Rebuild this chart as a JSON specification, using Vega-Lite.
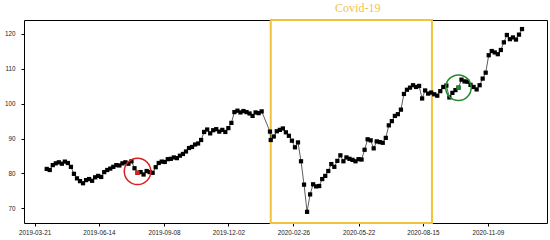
{
  "$schema": "https://vega.github.io/schema/vega-lite/v6.json",
  "width": 523,
  "height": 203,
  "autosize": {"type": "none"},
  "padding": {"left": 24, "top": 20, "right": 3, "bottom": 17},
  "background": "white",
  "config": {
    "view": {"stroke": "#000", "strokeWidth": 1},
    "axis": {"grid": false, "domain": false, "labelFont": "Liberation Sans", "labelFontSize": 6.3, "labelColor": "#222", "tickColor": "#000", "tickSize": 3, "title": null}
  },
  "datasets": {
    "series": [
      {"date": "2019-04-06", "value": 81.3}, {"date": "2019-04-10", "value": 81.0}, {"date": "2019-04-14", "value": 82.4}, {"date": "2019-04-18", "value": 82.9},
      {"date": "2019-04-22", "value": 83.2}, {"date": "2019-04-26", "value": 82.8}, {"date": "2019-04-30", "value": 83.4}, {"date": "2019-05-04", "value": 83.0},
      {"date": "2019-05-08", "value": 81.9}, {"date": "2019-05-12", "value": 79.9}, {"date": "2019-05-16", "value": 78.6}, {"date": "2019-05-20", "value": 77.8},
      {"date": "2019-05-24", "value": 77.2}, {"date": "2019-05-28", "value": 78.1}, {"date": "2019-06-01", "value": 78.4}, {"date": "2019-06-05", "value": 77.9},
      {"date": "2019-06-09", "value": 78.9}, {"date": "2019-06-13", "value": 79.3}, {"date": "2019-06-17", "value": 79.0}, {"date": "2019-06-21", "value": 80.4},
      {"date": "2019-06-25", "value": 81.0}, {"date": "2019-06-29", "value": 81.4}, {"date": "2019-07-03", "value": 81.9}, {"date": "2019-07-07", "value": 82.4},
      {"date": "2019-07-11", "value": 82.3}, {"date": "2019-07-15", "value": 82.9}, {"date": "2019-07-19", "value": 83.2}, {"date": "2019-07-23", "value": 82.8},
      {"date": "2019-07-27", "value": 83.5}, {"date": "2019-07-31", "value": 81.5}, {"date": "2019-08-04", "value": 80.2}, {"date": "2019-08-08", "value": 80.4},
      {"date": "2019-08-12", "value": 79.7}, {"date": "2019-08-16", "value": 80.7}, {"date": "2019-08-20", "value": 80.4}, {"date": "2019-08-24", "value": 80.2},
      {"date": "2019-08-28", "value": 81.8}, {"date": "2019-09-01", "value": 83.0}, {"date": "2019-09-05", "value": 83.4}, {"date": "2019-09-09", "value": 83.3},
      {"date": "2019-09-13", "value": 84.1}, {"date": "2019-09-17", "value": 84.2}, {"date": "2019-09-21", "value": 84.6}, {"date": "2019-09-25", "value": 84.4},
      {"date": "2019-09-29", "value": 85.1}, {"date": "2019-10-03", "value": 85.6}, {"date": "2019-10-07", "value": 86.3}, {"date": "2019-10-11", "value": 87.3},
      {"date": "2019-10-15", "value": 87.6}, {"date": "2019-10-19", "value": 88.3}, {"date": "2019-10-23", "value": 88.6}, {"date": "2019-10-27", "value": 89.6},
      {"date": "2019-10-31", "value": 91.9}, {"date": "2019-11-04", "value": 92.6}, {"date": "2019-11-08", "value": 91.5}, {"date": "2019-11-12", "value": 92.4},
      {"date": "2019-11-16", "value": 92.7}, {"date": "2019-11-20", "value": 92.0}, {"date": "2019-11-24", "value": 92.5}, {"date": "2019-11-28", "value": 91.9},
      {"date": "2019-12-02", "value": 93.0}, {"date": "2019-12-06", "value": 94.5}, {"date": "2019-12-10", "value": 97.6}, {"date": "2019-12-14", "value": 98.0},
      {"date": "2019-12-18", "value": 97.5}, {"date": "2019-12-22", "value": 97.9}, {"date": "2019-12-26", "value": 97.6}, {"date": "2019-12-30", "value": 97.2},
      {"date": "2020-01-03", "value": 96.5}, {"date": "2020-01-07", "value": 97.5}, {"date": "2020-01-11", "value": 97.3}, {"date": "2020-01-15", "value": 97.8},
      {"date": "2020-01-26", "value": 92.0}, {"date": "2020-01-27", "value": 89.6}, {"date": "2020-01-31", "value": 90.6}, {"date": "2020-02-04", "value": 92.1},
      {"date": "2020-02-08", "value": 92.5}, {"date": "2020-02-12", "value": 92.9}, {"date": "2020-02-16", "value": 91.8}, {"date": "2020-02-20", "value": 90.8},
      {"date": "2020-02-24", "value": 89.4}, {"date": "2020-02-28", "value": 87.5}, {"date": "2020-03-03", "value": 88.9}, {"date": "2020-03-07", "value": 83.5},
      {"date": "2020-03-11", "value": 76.8}, {"date": "2020-03-15", "value": 69.0}, {"date": "2020-03-19", "value": 74.0}, {"date": "2020-03-23", "value": 76.9},
      {"date": "2020-03-27", "value": 76.3}, {"date": "2020-03-31", "value": 76.4}, {"date": "2020-04-04", "value": 78.4}, {"date": "2020-04-08", "value": 79.3},
      {"date": "2020-04-12", "value": 80.7}, {"date": "2020-04-16", "value": 82.7}, {"date": "2020-04-20", "value": 81.9}, {"date": "2020-04-24", "value": 83.6},
      {"date": "2020-04-28", "value": 85.2}, {"date": "2020-05-02", "value": 83.5}, {"date": "2020-05-06", "value": 84.6}, {"date": "2020-05-10", "value": 84.2},
      {"date": "2020-05-14", "value": 83.9}, {"date": "2020-05-18", "value": 83.5}, {"date": "2020-05-22", "value": 84.1}, {"date": "2020-05-26", "value": 84.0},
      {"date": "2020-05-30", "value": 86.8}, {"date": "2020-06-03", "value": 89.8}, {"date": "2020-06-07", "value": 89.5}, {"date": "2020-06-11", "value": 87.2},
      {"date": "2020-06-15", "value": 89.2}, {"date": "2020-06-19", "value": 89.0}, {"date": "2020-06-23", "value": 88.8}, {"date": "2020-06-27", "value": 90.2},
      {"date": "2020-07-01", "value": 93.8}, {"date": "2020-07-05", "value": 95.0}, {"date": "2020-07-09", "value": 96.5}, {"date": "2020-07-13", "value": 97.0},
      {"date": "2020-07-17", "value": 98.3}, {"date": "2020-07-21", "value": 102.8}, {"date": "2020-07-25", "value": 104.0}, {"date": "2020-07-29", "value": 104.6},
      {"date": "2020-08-02", "value": 105.3}, {"date": "2020-08-06", "value": 104.8}, {"date": "2020-08-10", "value": 105.1}, {"date": "2020-08-14", "value": 101.5},
      {"date": "2020-08-18", "value": 103.8}, {"date": "2020-08-22", "value": 102.9}, {"date": "2020-08-26", "value": 103.2}, {"date": "2020-08-30", "value": 102.7},
      {"date": "2020-09-03", "value": 102.3}, {"date": "2020-09-07", "value": 103.6}, {"date": "2020-09-11", "value": 104.8}, {"date": "2020-09-15", "value": 105.2},
      {"date": "2020-09-19", "value": 101.8}, {"date": "2020-09-23", "value": 103.1}, {"date": "2020-09-27", "value": 103.9}, {"date": "2020-10-01", "value": 104.6},
      {"date": "2020-10-05", "value": 106.9}, {"date": "2020-10-09", "value": 106.4}, {"date": "2020-10-13", "value": 106.3}, {"date": "2020-10-17", "value": 105.4},
      {"date": "2020-10-21", "value": 104.8}, {"date": "2020-10-25", "value": 104.1}, {"date": "2020-10-29", "value": 105.3}, {"date": "2020-11-02", "value": 107.2},
      {"date": "2020-11-06", "value": 108.9}, {"date": "2020-11-10", "value": 113.9}, {"date": "2020-11-14", "value": 115.1}, {"date": "2020-11-18", "value": 114.7},
      {"date": "2020-11-22", "value": 114.2}, {"date": "2020-11-26", "value": 115.4}, {"date": "2020-11-30", "value": 117.6}, {"date": "2020-12-04", "value": 119.7},
      {"date": "2020-12-08", "value": 118.5}, {"date": "2020-12-12", "value": 119.0}, {"date": "2020-12-16", "value": 118.4}, {"date": "2020-12-20", "value": 119.8},
      {"date": "2020-12-24", "value": 121.4}
    ]
  },
  "encoding": {
    "x": {
      "field": "date", "type": "temporal",
      "scale": {"type": "utc", "domain": [{"year": 2019, "month": 3, "date": 7, "utc": true}, {"year": 2021, "month": 1, "date": 26, "utc": true}], "nice": false},
      "axis": {
        "format": "%Y-%m-%d", "labelPadding": 3,
        "values": [
          {"year": 2019, "month": 3, "date": 21, "utc": true},
          {"year": 2019, "month": 6, "date": 14, "utc": true},
          {"year": 2019, "month": 9, "date": 8, "utc": true},
          {"year": 2019, "month": 12, "date": 2, "utc": true},
          {"year": 2020, "month": 2, "date": 26, "utc": true},
          {"year": 2020, "month": 5, "date": 22, "utc": true},
          {"year": 2020, "month": 8, "date": 15, "utc": true},
          {"year": 2020, "month": 11, "date": 9, "utc": true}
        ]
      }
    },
    "y": {
      "field": "value", "type": "quantitative",
      "scale": {"domain": [65.8, 124], "nice": false, "zero": false},
      "axis": {"values": [70, 80, 90, 100, 110, 120], "labelPadding": 6}
    }
  },
  "layer": [
    {
      "data": {"values": [{"date": "2020-01-27", "date2": "2020-08-27"}]},
      "mark": {"type": "rect", "fill": "white", "fillOpacity": 0, "stroke": "#f2c23a", "strokeWidth": 2},
      "encoding": {"x2": {"field": "date2"}, "y": null}
    },
    {
      "data": {"name": "series"},
      "mark": {"type": "line", "color": "#333", "strokeWidth": 0.8}
    },
    {
      "data": {"name": "series"},
      "mark": {"type": "point", "shape": "square", "filled": true, "size": 18, "color": "#000", "opacity": 1}
    },
    {
      "data": {"values": [{"date": "2019-08-04", "value": 80.2}]},
      "mark": {"type": "point", "shape": "square", "filled": true, "size": 18, "color": "#e0201c", "opacity": 1}
    },
    {
      "data": {"values": [{"date": "2020-10-01", "value": 104.6}]},
      "mark": {"type": "point", "shape": "square", "filled": true, "size": 18, "color": "#1e8c2a", "opacity": 1}
    },
    {
      "data": {"values": [{"date": "2019-08-04", "value": 80.6}]},
      "mark": {"type": "point", "shape": "circle", "filled": false, "size": 700, "color": "#d92020", "strokeWidth": 1.5, "opacity": 1}
    },
    {
      "data": {"values": [{"date": "2020-10-01", "value": 104.6}]},
      "mark": {"type": "point", "shape": "circle", "filled": false, "size": 650, "color": "#238a2c", "strokeWidth": 1.5, "opacity": 1}
    },
    {
      "data": {"values": [{"date": "2020-05-21", "value": 127.4, "label": "Covid-19"}]},
      "mark": {"type": "text", "font": "Liberation Serif", "fontSize": 12, "color": "#f0c445", "baseline": "middle", "align": "center"},
      "encoding": {"text": {"field": "label"}}
    }
  ]
}
